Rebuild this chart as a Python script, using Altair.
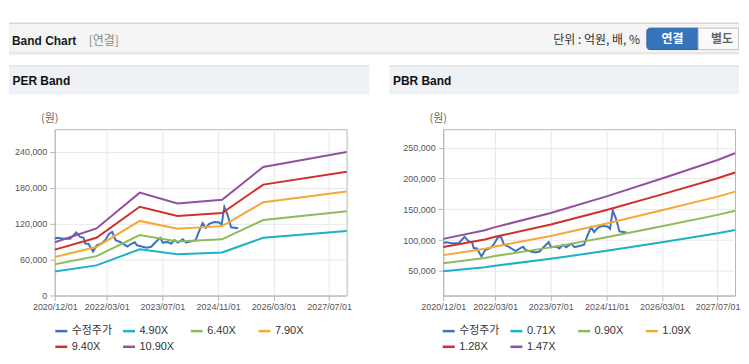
import altair as alt
import pandas as pd

FONT = "Liberation Sans, Noto Sans CJK KR, sans-serif"
KFONT = "Noto Sans CJK KR, Liberation Sans, sans-serif"

# ---- texts ----
header_title = "Band Chart"
header_tag = "[연결]"
unit_text = "단위 : 억원, 배, %"
button_labels = ["연결", "별도"]
panel_titles = ["PER Band", "PBR Band"]
y_unit = "(원)"

# ---- axes ----
x_domain = [(2020, 12, 1), (2027, 12, 1)]
x_tick_dates = [(2020, 12, 1), (2022, 3, 1), (2023, 7, 1), (2024, 11, 1), (2026, 3, 1), (2027, 7, 1)]

# ---- adjusted price (수정주가) ----
price_name = "수정주가"
price_dates = ["2020-12-01", "2020-12-22", "2021-02-18", "2021-04-15", "2021-06-07", "2021-07-10",
               "2021-08-10", "2021-08-25", "2021-09-22", "2021-11-01", "2021-12-04", "2022-01-15",
               "2022-02-15", "2022-03-22", "2022-04-18", "2022-05-18", "2022-06-25", "2022-08-28",
               "2022-10-04", "2022-11-01", "2022-11-22", "2023-01-01", "2023-02-13", "2023-03-25",
               "2023-05-07", "2023-06-13", "2023-07-04", "2023-08-19", "2023-09-15", "2023-10-15",
               "2023-11-13", "2023-12-28", "2024-01-25", "2024-03-07", "2024-04-18", "2024-05-18",
               "2024-06-18", "2024-07-15", "2024-08-15", "2024-09-28", "2024-11-10", "2024-12-01",
               "2024-12-25", "2025-01-22", "2025-02-22", "2025-04-25"]
price_values = [95000, 96500, 95000, 95000, 105500, 98000, 96500, 87000, 86500, 73500, 84000, 87000,
                92500, 103500, 106500, 92500, 89500, 82000, 86500, 89000, 84000, 82000, 80000, 81500,
                90000, 96500, 88500, 89500, 86500, 92500, 88500, 94000, 88500, 90500, 92500, 107500,
                121000, 113000, 120000, 123000, 122000, 118500, 148000, 135000, 114000, 112500]

# ---- PER band ----
per_names = ["4.90X", "6.40X", "7.90X", "9.40X", "10.90X"]
per_dates = ["2020-12-01", "2021-12-01", "2022-12-15", "2023-11-10", "2024-12-05", "2025-12-01", "2027-12-01"]
per_490 = [40000, 50400, 77300, 69200, 71900, 96600, 107800]
per_640 = [52300, 65800, 101000, 90400, 94000, 126200, 140800]
per_790 = [64500, 81200, 124700, 111600, 116000, 155800, 173800]
per_940 = [76800, 96600, 148300, 132800, 138000, 185400, 206800]
per_1090 = [89100, 112100, 172000, 154000, 160000, 215000, 239800]
per_y_domain = [0, 278000]
per_y_ticks = [0, 60000, 120000, 180000, 240000]

# ---- PBR band ----
pbr_names = ["0.71X", "0.90X", "1.09X", "1.28X", "1.47X"]
pbr_dates = ["2020-12-01", "2021-12-01", "2022-03-01", "2023-07-01", "2024-11-01", "2026-03-01", "2027-07-01", "2027-12-01"]
pbr_071 = [49300, 56000, 58400, 69600, 82600, 96600, 111100, 116400]
pbr_090 = [62500, 71000, 74100, 88200, 104700, 122500, 140900, 147500]
pbr_109 = [75600, 86000, 89700, 106800, 126800, 148300, 170600, 178700]
pbr_128 = [88800, 101000, 105300, 125400, 148900, 174200, 200300, 209800]
pbr_147 = [102000, 116000, 121000, 144100, 171000, 200100, 230100, 240900]
pbr_y_domain = [10000, 280000]
pbr_y_ticks = [50000, 100000, 150000, 200000, 250000]

series_colors = ["#3b73be", "#1cb2c5", "#8fbb58", "#f5a836", "#d12f2c", "#9250a0"]

ONE = alt.InlineData(values=[{"k": 0}])


def dt(t):
    return alt.DateTime(year=t[0], month=t[1], date=t[2], utc=True)


def deco_rect(x, x2, y, y2, fill, **kw):
    return alt.Chart(ONE).mark_rect(fill=fill, **kw).encode(
        x=alt.value(x), x2=alt.value(x2), y=alt.value(y), y2=alt.value(y2))


def deco_text(x, y, text, **kw):
    return alt.Chart(ONE).mark_text(**kw).encode(
        x=alt.value(x), y=alt.value(y), text=alt.value(text))


def band_panel(title, names, band_dates, band_lists, y_domain, y_ticks,
               left, right, legend_x, extra_layers):
    series = [price_name] + names
    price_df = pd.DataFrame({"date": price_dates, "value": price_values, "series": price_name})
    rows = []
    for name, vals in zip(names, band_lists):
        for d, v in zip(band_dates, vals):
            rows.append({"date": d, "value": v, "series": name})
    band_df = pd.DataFrame(rows)

    axis_common = dict(labelFont=FONT, labelFontSize=9, labelColor="#555555",
                       tickColor="#b5b5b5", tickSize=5, domainColor="#b5b5b5",
                       gridColor="#e8e8e8")
    x_enc = alt.X("date:T", title=None,
                  scale=alt.Scale(type="utc", domain=[dt(x_domain[0]), dt(x_domain[1])]),
                  axis=alt.Axis(values=[dt(t) for t in x_tick_dates], format="%Y/%m/%d",
                                labelFlush=False, labelPadding=2, **axis_common))
    y_enc = alt.Y("value:Q", title=None,
                  scale=alt.Scale(domain=y_domain, nice=False, zero=False),
                  axis=alt.Axis(values=y_ticks, format=",d", labelPadding=3, **axis_common))
    color_enc = alt.Color("series:N",
                          scale=alt.Scale(domain=series, range=series_colors),
                          legend=alt.Legend(title=None, orient="none", legendX=legend_x, legendY=195,
                                            direction="horizontal", columns=4, gridAlign="all",
                                            symbolType="stroke", symbolSize=144, symbolStrokeWidth=2.5,
                                            labelFont=FONT, labelFontSize=11, labelColor="#333333",
                                            labelOffset=3, columnPadding=5, rowPadding=3, padding=0))
    price_line = alt.Chart(price_df).mark_line(strokeWidth=2).encode(x=x_enc, y=y_enc, color=color_enc)
    band_lines = alt.Chart(band_df).mark_line(strokeWidth=2).encode(x=x_enc, y=y_enc, color=color_enc)

    return alt.layer(
        *extra_layers,
        deco_rect(left, right, -64, -35, "#eef2f7"),
        deco_rect(left, right, -64, -63, "#d8dce2"),
        deco_text(left + 3.5, -48, title, align="left", baseline="middle", font=FONT,
                  fontSize=12, fontWeight="bold", color="#111111"),
        deco_text(-5, -10, y_unit, align="center", baseline="middle", font=KFONT,
                  fontSize=11, color="#666666"),
        price_line,
        band_lines,
    ).properties(width=293, height=167)


# Page header, drawn in the left chart (plot origin at page (54,128)), spanning page x 8 .. 741
header_layers = [
    deco_rect(-46, 687, -107, -106, "#bdbdbd"),
    deco_rect(-46, 687, -106, -77, "#f4f4f4"),
    deco_rect(-46, 687, -77, -76, "#d4d4d4"),
    deco_rect(-46, 687, -76, -75, "#e8e8e8"),
    deco_text(-43, -89, header_title, align="left", baseline="middle", font=FONT,
              fontSize=12, fontWeight="bold", color="#1a1a1a"),
    deco_text(34, -89, header_tag, align="left", baseline="middle", font=KFONT,
              fontSize=12, color="#8a8a8a"),
    deco_text(587.5, -90, unit_text, align="right", baseline="middle", font=KFONT,
              fontSize=12, color="#333333"),
    deco_rect(594.5, 646, -101.5, -80, "#3574b9", stroke="#2b64a3", strokeWidth=1,
              cornerRadiusTopLeft=3, cornerRadiusBottomLeft=3),
    deco_rect(646, 686.5, -101.5, -80, "#fafafa", stroke="#c5c5c5", strokeWidth=1),
    deco_text(620.2, -90.5, button_labels[0], align="center", baseline="middle", font=KFONT,
              fontSize=12, fontWeight="bold", color="#ffffff"),
    deco_text(670, -90.5, button_labels[1], align="center", baseline="middle", font=KFONT,
              fontSize=12, fontWeight="bold", color="#666666"),
]

left_panel = band_panel(panel_titles[0], per_names, per_dates,
                        [per_490, per_640, per_790, per_940, per_1090],
                        per_y_domain, per_y_ticks, -46, 316, -1, header_layers)
right_panel = band_panel(panel_titles[1], pbr_names, pbr_dates,
                         [pbr_071, pbr_090, pbr_109, pbr_128, pbr_147],
                         pbr_y_domain, pbr_y_ticks, -54, 297, -2, [])

chart = alt.hconcat(left_panel, right_panel, spacing=97, bounds="flush").resolve_scale(
    color="independent"
).properties(
    padding={"top": 13, "left": 0, "right": 0, "bottom": 0}
).configure(font=FONT).configure_view(stroke="#b5b5b5", strokeWidth=1)

chart.save("out.html", embed_options={"renderer": "svg", "actions": False})
